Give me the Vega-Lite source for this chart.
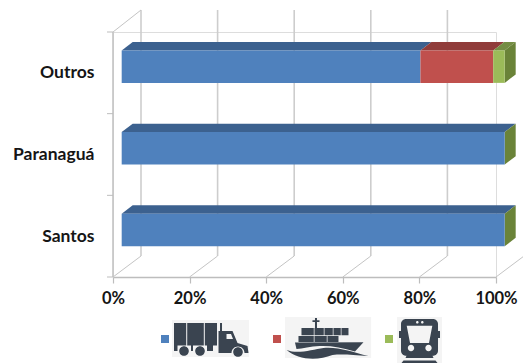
{
  "$schema": "https://vega.github.io/schema/vega-lite/v6.json",
  "width": 383,
  "height": 245,
  "autosize": "none",
  "padding": {"left": 113, "top": 32, "right": 27, "bottom": 86},
  "background": "white",
  "data": {"values": [
    {"porto": "Santos", "modal": "Rodoviário", "pct": 100},
    {"porto": "Paranaguá", "modal": "Rodoviário", "pct": 100},
    {"porto": "Outros", "modal": "Rodoviário", "pct": 78},
    {"porto": "Outros", "modal": "Marítimo", "pct": 19},
    {"porto": "Outros", "modal": "Ferroviário", "pct": 3}
  ]},
  "transform": [
    {"calculate": "indexof(['Rodoviário','Marítimo','Ferroviário'], datum.modal)", "as": "ordem"},
    {"stack": "pct", "groupby": ["porto"], "sort": [{"field": "ordem", "order": "ascending"}], "as": ["start", "end"]},
    {"calculate": "indexof(['Santos','Paranaguá','Outros'], datum.porto) + 0.5", "as": "lane"}
  ],
  "layer": [
    {
      "data": {"values": [{"pct": 0}, {"pct": 20}, {"pct": 40}, {"pct": 60}, {"pct": 80}, {"pct": 100}]},
      "transform": [],
      "mark": {"type": "rule", "color": "#cdcdcd", "strokeWidth": 1.6, "xOffset": 28, "yOffset": -21, "y2Offset": -22},
      "encoding": {
        "x": {"field": "pct", "type": "quantitative", "title": null, "scale": {"domain": [0, 100], "nice": false},
          "axis": {"values": [0, 20, 40, 60, 80, 100], "labelExpr": "datum.value + '%'", "title": null, "grid": false,
            "domainColor": "#bdbdbd", "domainWidth": 1.4, "tickColor": "#bdbdbd", "tickWidth": 1.2, "tickSize": 6,
            "labelFont": "Lato", "labelFontWeight": "bold", "labelFontSize": 16.5, "labelColor": "#151515", "labelPadding": 7,
            "labelOverlap": false, "labelBound": false, "labelFlush": false}},
        "y": {"datum": 0, "type": "quantitative", "title": null, "scale": {"domain": [0, 3], "nice": false},
          "axis": {"values": [0.5, 1.5, 2.5], "labelExpr": "['Santos','Paranaguá','Outros'][floor(datum.value)]", "title": null, "grid": false,
            "domain": false, "ticks": false, "labelFont": "Lato", "labelFontWeight": "bold", "labelFontSize": 17.5, "labelColor": "#151515", "labelPadding": 19,
            "labelOverlap": false, "labelBound": false}},
        "y2": {"datum": 3}
      }
    },
    {
      "data": {"values": [{"pct": 0}, {"pct": 20}, {"pct": 40}, {"pct": 60}, {"pct": 80}, {"pct": 100}]},
      "transform": [],
      "mark": {"type": "rule", "color": "#c4c4c4", "strokeWidth": 1, "x2Offset": 28, "y2Offset": -21},
      "encoding": {
        "x": {"field": "pct", "type": "quantitative", "title": null, "scale": {"domain": [0, 100], "nice": false}},
        "x2": {"field": "pct"},
        "y": {"datum": 0, "type": "quantitative", "title": null, "scale": {"domain": [0, 3], "nice": false}},
        "y2": {"datum": 0}
      }
    },
    {
      "data": {"values": [{"pct": 0}]},
      "transform": [],
      "mark": {"type": "rule", "color": "#c4c4c4", "strokeWidth": 1, "x2Offset": 28, "y2Offset": -22},
      "encoding": {
        "x": {"field": "pct", "type": "quantitative", "title": null, "scale": {"domain": [0, 100], "nice": false}},
        "x2": {"field": "pct"},
        "y": {"datum": 3, "type": "quantitative", "title": null, "scale": {"domain": [0, 3], "nice": false}},
        "y2": {"datum": 3}
      }
    },
    {
      "data": {"values": [{"pct": 0}]},
      "transform": [],
      "mark": {"type": "rule", "color": "#c4c4c4", "strokeWidth": 1.6},
      "encoding": {
        "x": {"field": "pct", "type": "quantitative", "title": null, "scale": {"domain": [0, 100], "nice": false}},
        "y": {"datum": 0, "type": "quantitative", "title": null, "scale": {"domain": [0, 3], "nice": false}},
        "y2": {"datum": 3}
      }
    },
    {
      "data": {"values": [{"limite": 0}, {"limite": 1}, {"limite": 2}, {"limite": 3}]},
      "transform": [],
      "mark": {"type": "rule", "color": "#bdbdbd", "strokeWidth": 1, "xOffset": -6},
      "encoding": {
        "x": {"datum": 0, "type": "quantitative", "title": null, "scale": {"domain": [0, 100], "nice": false}},
        "x2": {"datum": 0},
        "y": {"field": "limite", "type": "quantitative", "title": null, "scale": {"domain": [0, 3], "nice": false}}
      }
    },
    {
      "transform": [
        {"calculate": "[0, 1]", "as": "fundo"},
        {"flatten": ["fundo"]},
        {"calculate": "datum.start + 2.27 + 2.87 * datum.fundo", "as": "xa"},
        {"calculate": "datum.end + 2.27 + 2.87 * datum.fundo", "as": "xb"},
        {"calculate": "datum.lane + 0.275 + 0.103 * datum.fundo", "as": "yt"}
      ],
      "mark": {"type": "area", "orient": "horizontal", "opacity": 1},
      "encoding": {
        "y": {"field": "yt", "type": "quantitative", "title": null, "scale": {"domain": [0, 3], "nice": false}},
        "x": {"field": "xa", "type": "quantitative", "title": null, "stack": null, "scale": {"domain": [0, 100], "nice": false}},
        "x2": {"field": "xb"},
        "detail": {"field": "porto"},
        "color": {"field": "modal", "type": "nominal", "legend": null,
          "scale": {"domain": ["Rodoviário", "Marítimo", "Ferroviário"], "range": ["#3c618f", "#903c3a", "#748d43"]}}
      }
    },
    {
      "transform": [
        {"filter": "datum.end >= 100"},
        {"calculate": "[0, 1]", "as": "fundo"},
        {"flatten": ["fundo"]},
        {"calculate": "datum.end + 2.27 + 2.87 * datum.fundo", "as": "xs"},
        {"calculate": "datum.lane + 0.275 + 0.103 * datum.fundo", "as": "yt"},
        {"calculate": "datum.lane - 0.123 + 0.103 * datum.fundo", "as": "yb"}
      ],
      "mark": {"type": "area", "orient": "vertical", "opacity": 1},
      "encoding": {
        "x": {"field": "xs", "type": "quantitative", "title": null, "scale": {"domain": [0, 100], "nice": false}},
        "y": {"field": "yt", "type": "quantitative", "title": null, "stack": null, "scale": {"domain": [0, 3], "nice": false}},
        "y2": {"field": "yb"},
        "detail": {"field": "porto"},
        "color": {"field": "modal", "type": "nominal", "legend": null,
          "scale": {"domain": ["Rodoviário", "Ferroviário"], "range": ["#6a8338", "#6a8338"]}}
      }
    },
    {
      "transform": [
        {"calculate": "datum.start + 2.27", "as": "xa"},
        {"calculate": "datum.end + 2.27", "as": "xb"},
        {"calculate": "datum.lane + 0.275", "as": "yt"},
        {"calculate": "datum.lane - 0.123", "as": "yb"}
      ],
      "mark": {"type": "rect", "opacity": 1},
      "encoding": {
        "x": {"field": "xa", "type": "quantitative", "title": null, "scale": {"domain": [0, 100], "nice": false}},
        "x2": {"field": "xb"},
        "y": {"field": "yt", "type": "quantitative", "title": null, "scale": {"domain": [0, 3], "nice": false}},
        "y2": {"field": "yb"},
        "color": {"field": "modal", "type": "nominal",
          "scale": {"domain": ["Rodoviário", "Marítimo", "Ferroviário"], "range": ["#4f81bd", "#c0504d", "#9bbb59"]},
          "legend": {"orient": "none", "legendX": 48, "legendY": 303, "direction": "horizontal", "columns": 3, "title": null,
            "symbolType": "square", "symbolSize": 64, "symbolStrokeWidth": 0, "symbolOpacity": 1, "labelExpr": "''", "labelFontSize": 1,
            "labelOffset": 0, "columnPadding": 104}}
      }
    },
    {
      "data": {"values": [
        {"modal": "Rodoviário", "x0": 15.4, "x1": 35.5, "y0": -0.527, "y1": -0.98},
        {"modal": "Marítimo", "x0": 44.9, "x1": 67.4, "y0": -0.49, "y1": -0.992},
        {"modal": "Ferroviário", "x0": 74.15, "x1": 85.9, "y0": -0.49, "y1": -1.053}
      ]},
      "transform": [],
      "mark": {"type": "rect", "color": "#f4f4f4"},
      "encoding": {
        "x": {"field": "x0", "type": "quantitative", "title": null, "scale": {"domain": [0, 100], "nice": false}},
        "x2": {"field": "x1"},
        "y": {"field": "y0", "type": "quantitative", "title": null, "scale": {"domain": [0, 3], "nice": false}},
        "y2": {"field": "y1"}
      }
    },
    {
      "data": {"values": [{"modal": "Rodoviário", "cx": 25.46, "cy": -0.759}]},
      "transform": [],
      "mark": {"type": "point", "filled": true, "opacity": 1, "size": 4, "strokeWidth": 0, "color": "#3a4450",
        "shape": "M-36.5,-16H-24.3V6.5H-36.5ZM-23.3,-16H-6.7V6.5H-23.3ZM-5.7,-16H6.5V6.5H-5.7ZM-36.5,6.5H-33V12H-36.5ZM-19.5,6.5H-17.5V12H-19.5ZM-3.5,6.5H2.5V12H-3.5ZM9.5,-16H11.5V-8H9.5ZM8,-8H22L27,4L37,7L38,14H34A6.5,6.5 0 0 0 21,14H8ZM16,-5V0H22.5L20.5,-5ZM-31.3,12A4.8,4.8 0 1 0 -21.7,12A4.8,4.8 0 1 0 -31.3,12ZM-15.3,12A4.8,4.8 0 1 0 -5.7,12A4.8,4.8 0 1 0 -15.3,12ZM22.7,13A4.8,4.8 0 1 0 32.3,13A4.8,4.8 0 1 0 22.7,13Z"},
      "encoding": {
        "x": {"field": "cx", "type": "quantitative", "title": null, "scale": {"domain": [0, 100], "nice": false}},
        "y": {"field": "cy", "type": "quantitative", "title": null, "scale": {"domain": [0, 3], "nice": false}}
      }
    },
    {
      "data": {"values": [{"modal": "Marítimo", "cx": 56.0, "cy": -0.759}]},
      "transform": [],
      "mark": {"type": "point", "filled": true, "opacity": 1, "size": 4, "strokeWidth": 0, "color": "#3a4450",
        "shape": "M-12.5,-21H-10.5V-11H-12.5ZM-15,-18.7H-8V-17H-15ZM-26,-11H-13.7V-3.8H-26ZM-13,-11H-3.7V-3.8H-13ZM-3,-11H5.3V-3.8H-3ZM6,-11H13.3V-3.8H6ZM14,-11H21V-3.8H14ZM-29,-3H-13.7V3H-29ZM-13,-3H-0.7V3H-13ZM0,-3H11V3H0ZM-32.5,3.6L36,3.3L27.5,12.5C15,8.5 3,6.5 -8,7C-17,7.4 -25,9.5 -31,10ZM-40.8,11C-30,15.5 -15,10.5 -4,9C10,7.5 25,13 40.8,17C25,16 15,15 5,16C-10,22 -30,21 -40.8,11Z"},
      "encoding": {
        "x": {"field": "cx", "type": "quantitative", "title": null, "scale": {"domain": [0, 100], "nice": false}},
        "y": {"field": "cy", "type": "quantitative", "title": null, "scale": {"domain": [0, 3], "nice": false}}
      }
    },
    {
      "data": {"values": [{"modal": "Ferroviário", "cx": 80.03, "cy": -0.759}]},
      "transform": [],
      "mark": {"type": "point", "filled": true, "opacity": 1, "size": 4, "strokeWidth": 0, "color": "#3a4450",
        "shape": "M-13.5,-20H13.5A5,5 0 0 1 18.5,-15V11.7A5,5 0 0 1 13.5,16.7H-13.5A5,5 0 0 1 -18.5,11.7V-15A5,5 0 0 1 -13.5,-20ZM-12.8,-13.3L-9.5,4H9.5L12.8,-13.3ZM-11.7,9A3.2,3.2 0 1 0 -5.3,9A3.2,3.2 0 1 0 -11.7,9ZM5.8,9A3.2,3.2 0 1 0 12.2,9A3.2,3.2 0 1 0 5.8,9ZM-3.5,-16.7A1.3,1.3 0 1 0 -0.9,-16.7A1.3,1.3 0 1 0 -3.5,-16.7ZM1.5,-16.7A1.3,1.3 0 1 0 4.1,-16.7A1.3,1.3 0 1 0 1.5,-16.7ZM-18.5,-8H-20.5V-1H-18.5ZM18.5,-8H20.5V-1H18.5ZM-13,16.7H13L14,19H-14ZM-16,21.5H16L18,24H-18Z"},
      "encoding": {
        "x": {"field": "cx", "type": "quantitative", "title": null, "scale": {"domain": [0, 100], "nice": false}},
        "y": {"field": "cy", "type": "quantitative", "title": null, "scale": {"domain": [0, 3], "nice": false}}
      }
    }
  ],
  "resolve": {"scale": {"color": "independent"}}
}
